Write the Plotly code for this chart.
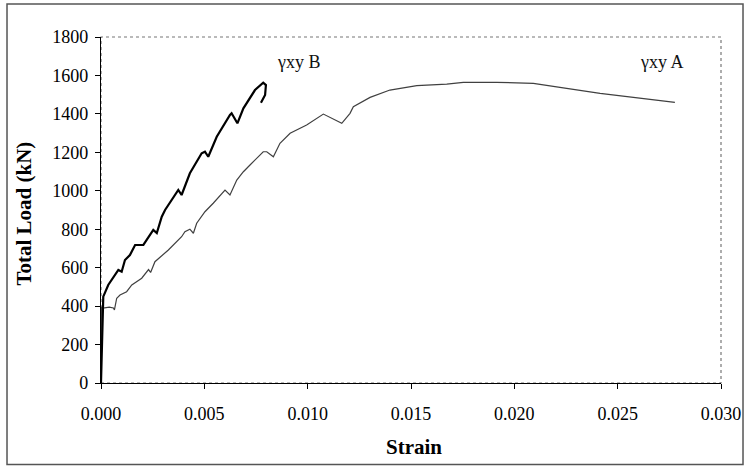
import plotly.graph_objects as go

# Curve gamma_xy B (thick black)
b_strain = [0, 0.00003, 0.00006, 0.0001, 0.00011, 0.00035, 0.00052, 0.00084, 0.001, 0.00116,
            0.0014, 0.00165, 0.00205, 0.00245, 0.00253, 0.0027, 0.00294, 0.0031, 0.0035, 0.00374,
            0.0039, 0.0043, 0.00487, 0.00503, 0.00519, 0.0056, 0.00624, 0.00632, 0.0066, 0.00689,
            0.00745, 0.00785, 0.00798, 0.00794, 0.00774]
b_load = [0, 150, 300, 400, 449, 510, 536, 588, 579, 640,
          666, 718, 718, 780, 796, 780, 865, 900, 969, 1004,
          978, 1091, 1195, 1203, 1177, 1281, 1394, 1403, 1351, 1429,
          1524, 1562, 1550, 1498, 1458]

# Curve gamma_xy A (thin grey)
a_strain = [0, 0.00002, 0.00003, 0.0001, 0.0004, 0.0006, 0.00065, 0.00076, 0.00092, 0.00124,
            0.00149, 0.00197, 0.0023, 0.0024, 0.00261, 0.00326, 0.0039, 0.00406, 0.0043, 0.00447,
            0.00463, 0.00503, 0.00543, 0.006, 0.00624, 0.00657, 0.00689, 0.00721, 0.00785, 0.00802,
            0.00834, 0.00866, 0.00915, 0.00995, 0.01076, 0.01165, 0.01205, 0.01221, 0.01302, 0.01398,
            0.01528, 0.01673, 0.01753, 0.01915, 0.02044, 0.02092, 0.02253, 0.02415, 0.02576, 0.02777]
a_load = [0, 200, 397, 390, 395, 390, 380, 441, 458, 475,
          510, 545, 590, 575, 631, 692, 761, 787, 800, 779,
          831, 891, 935, 1004, 978, 1056, 1099, 1134, 1203, 1203,
          1177, 1247, 1299, 1342, 1399, 1351, 1403, 1437, 1486, 1524,
          1547, 1555, 1564, 1564, 1559, 1559, 1533, 1507, 1486, 1460]

x_ticks = [0.000, 0.005, 0.010, 0.015, 0.020, 0.025, 0.030]
x_tick_labels = ["0.000", "0.005", "0.010", "0.015", "0.020", "0.025", "0.030"]
y_ticks = [0, 200, 400, 600, 800, 1000, 1200, 1400, 1600, 1800]

labels = ["γxy B", "γxy A"]
label_x = [0.0084, 0.0260]
label_y = [1672, 1672]

SERIF = "Liberation Serif, Times New Roman, serif"

fig = go.Figure()
fig.add_trace(go.Scatter(x=a_strain, y=a_load, mode="lines",
                         line=dict(color="#404040", width=1.2), showlegend=False))
fig.add_trace(go.Scatter(x=b_strain, y=b_load, mode="lines",
                         line=dict(color="#000000", width=2.2), showlegend=False))

for t, lx, ly in zip(labels, label_x, label_y):
    fig.add_annotation(x=lx, y=ly, text=t, showarrow=False, xanchor="left", yanchor="middle",
                       font=dict(family=SERIF, size=18, color="#111"))

# axis titles
fig.add_annotation(xref="paper", yref="paper", x=0.505, y=-0.185, text="<b>Strain</b>",
                   showarrow=False, xanchor="center", yanchor="middle",
                   font=dict(family=SERIF, size=21, color="#000"))
fig.add_annotation(xref="paper", yref="paper", x=-0.124, y=0.49, text="<b>Total Load (kN)</b>",
                   showarrow=False, textangle=-90, xanchor="center", yanchor="middle",
                   font=dict(family=SERIF, size=21, color="#000"))

# plot-area frame (dotted grey) and outer chart border
fig.add_shape(type="rect", xref="paper", yref="paper", x0=0, y0=0, x1=1, y1=1,
              line=dict(color="#777", width=1.2, dash="dot"), layer="below")
fig.add_shape(type="rect", xref="paper", yref="paper", x0=-0.1516, y0=-0.2355, x1=1.0355, y1=1.0954,
              line=dict(color="#555", width=1.5), layer="below")

fig.update_layout(
    width=745, height=467,
    margin=dict(l=101, r=24, t=37, b=84, autoexpand=False),
    paper_bgcolor="white", plot_bgcolor="white",
    font=dict(family=SERIF, size=18, color="#000"),
    showlegend=False,
)
fig.update_xaxes(range=[0, 0.030], tickvals=x_ticks, ticktext=x_tick_labels,
                 showgrid=False, zeroline=False, showline=True, linecolor="#000", linewidth=1.2,
                 ticks="outside", ticklen=5, tickcolor="#000", ticklabelstandoff=9,
                 tickfont=dict(family=SERIF, size=18))
fig.update_yaxes(range=[0, 1800], tickvals=y_ticks,
                 showgrid=False, zeroline=False, showline=True, linecolor="#000", linewidth=1.2,
                 ticks="outside", ticklen=5, tickcolor="#000", ticklabelstandoff=3,
                 tickfont=dict(family=SERIF, size=18))

fig.write_html("out.html", config={"displayModeBar": False},
               post_script="document.body.style.margin='0';document.body.style.overflow='hidden';")
